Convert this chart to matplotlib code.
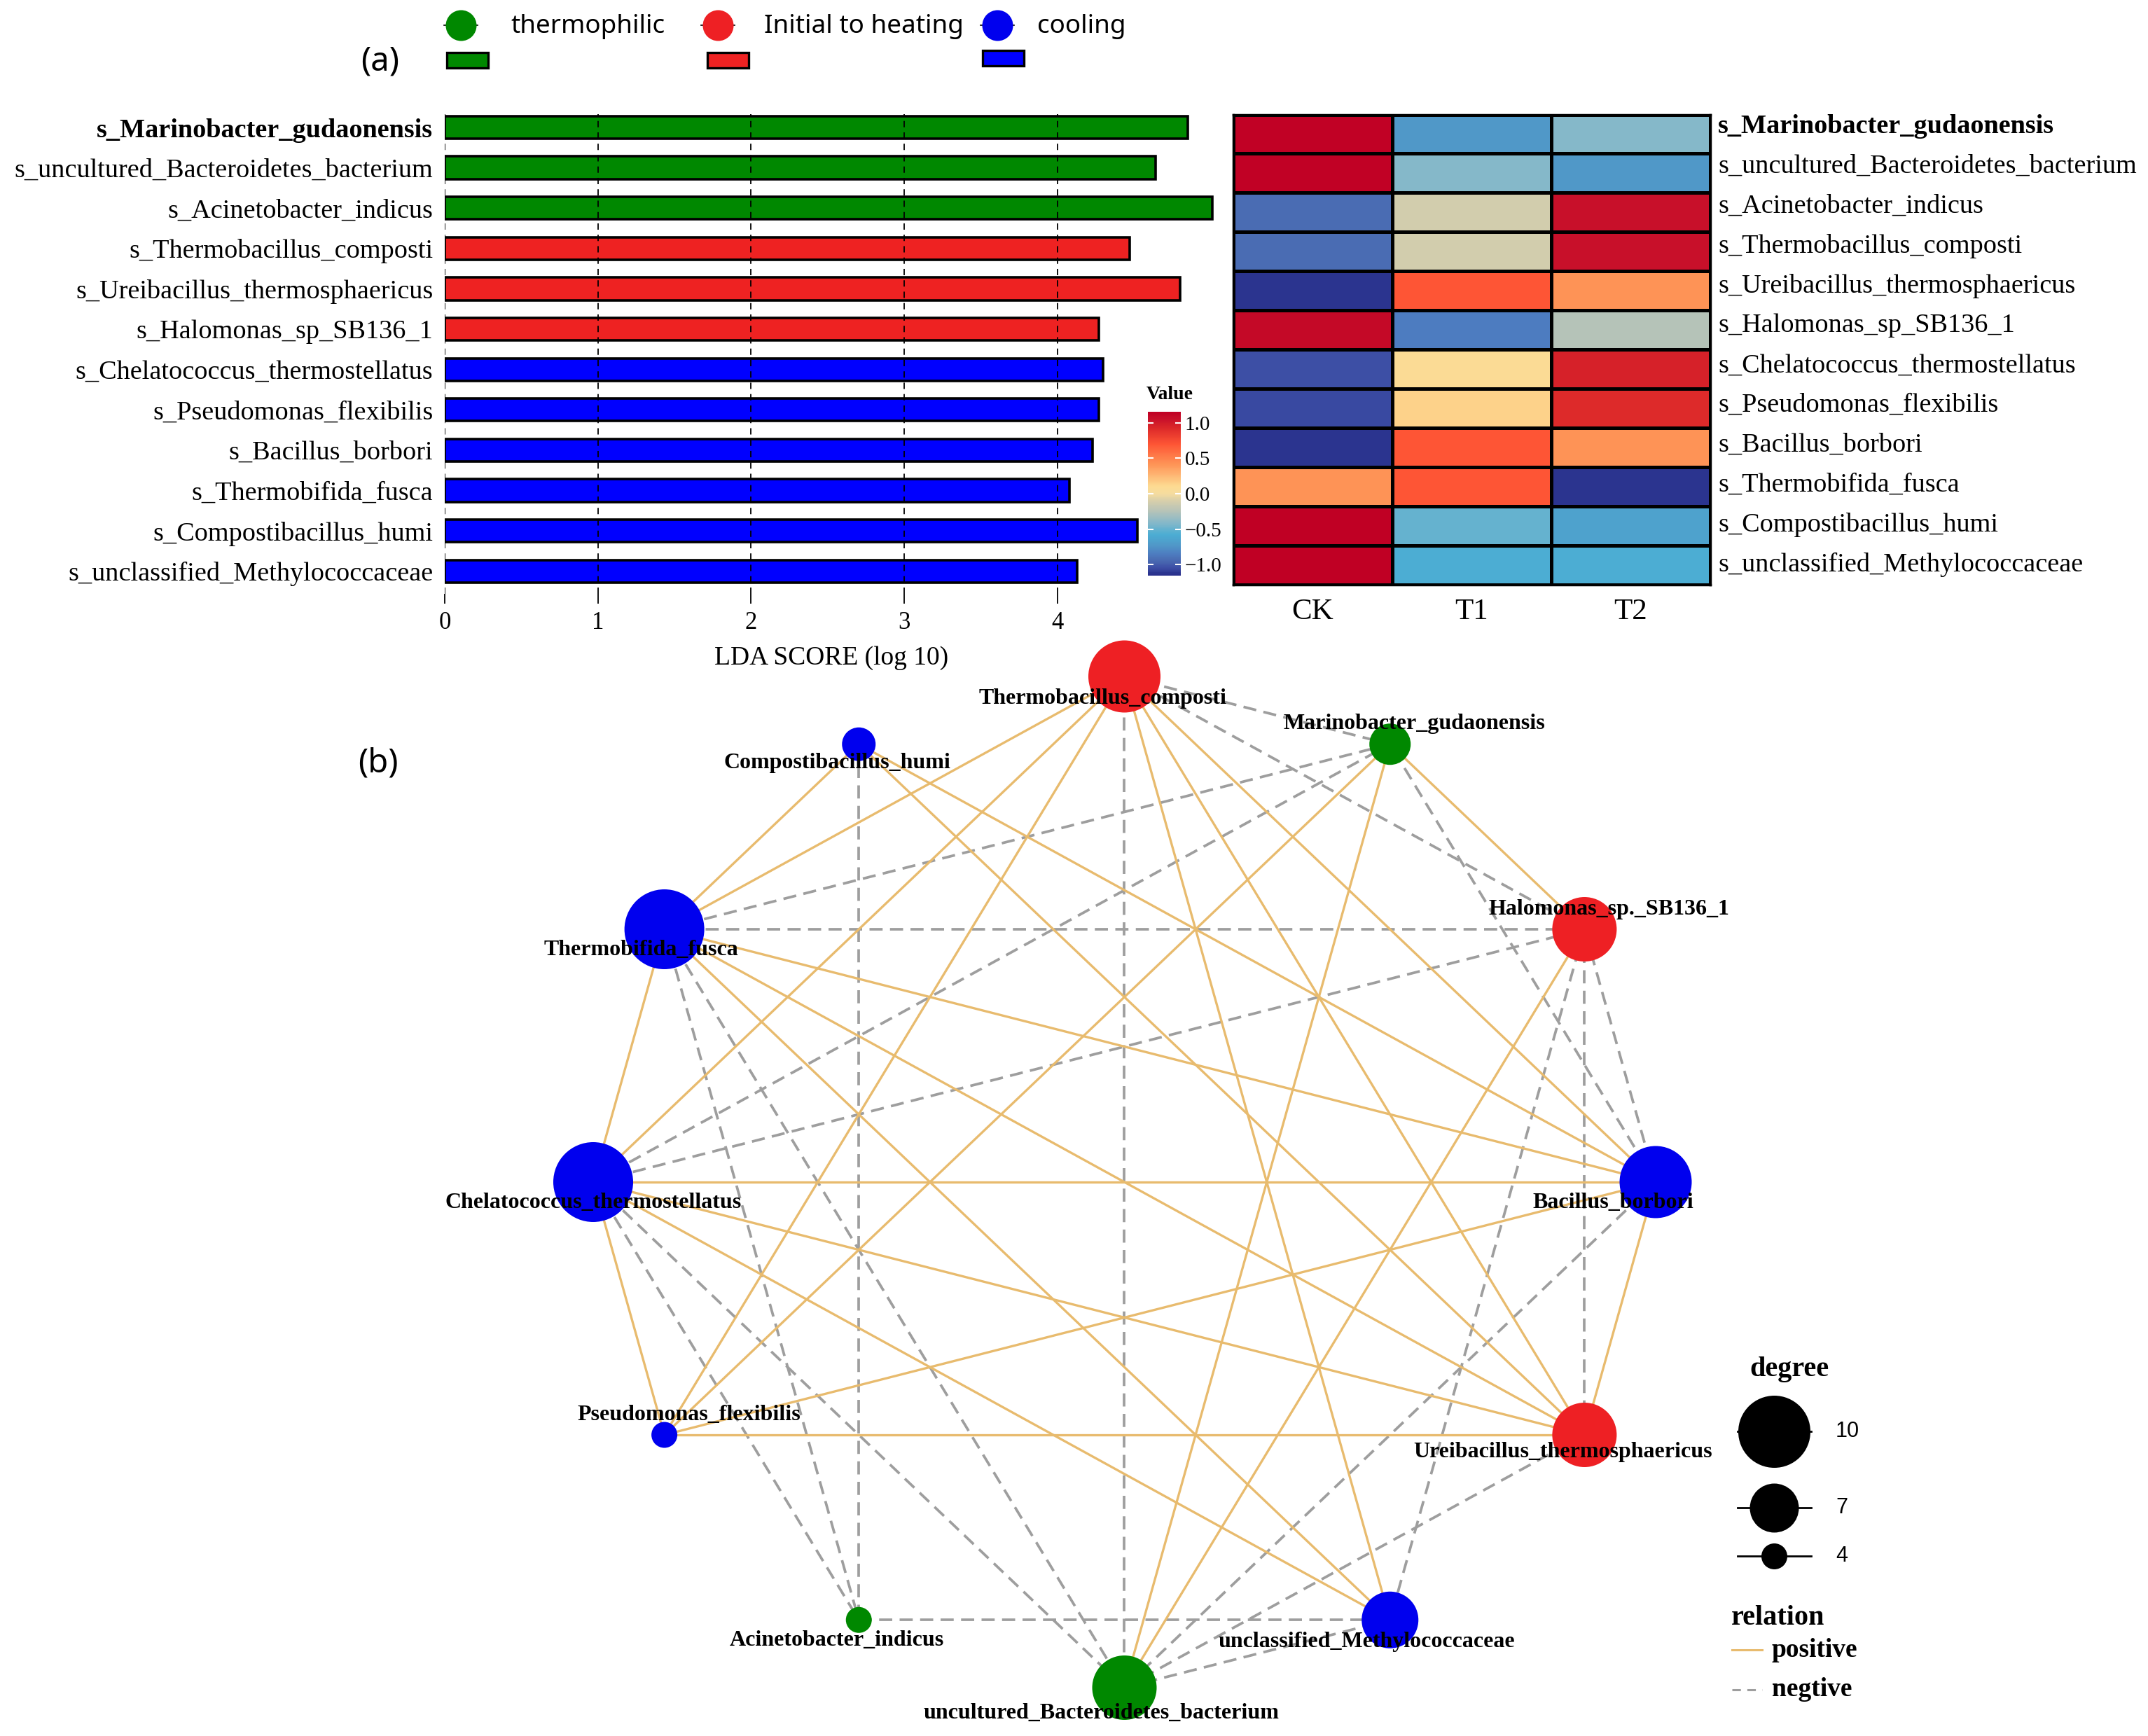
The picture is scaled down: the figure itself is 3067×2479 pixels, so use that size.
import numpy as np
import matplotlib
matplotlib.use("Agg")
import matplotlib.pyplot as plt
from matplotlib.colors import LinearSegmentedColormap
from matplotlib.patches import Rectangle

# ---------------- data ----------------
species = ["s_Marinobacter_gudaonensis", "s_uncultured_Bacteroidetes_bacterium",
           "s_Acinetobacter_indicus", "s_Thermobacillus_composti",
           "s_Ureibacillus_thermosphaericus", "s_Halomonas_sp_SB136_1",
           "s_Chelatococcus_thermostellatus", "s_Pseudomonas_flexibilis",
           "s_Bacillus_borbori", "s_Thermobifida_fusca",
           "s_Compostibacillus_humi", "s_unclassified_Methylococcaceae"]
stage = ["thermophilic"] * 3 + ["Initial to heating"] * 3 + ["cooling"] * 6
lda = [4.85, 4.64, 5.01, 4.47, 4.80, 4.27, 4.30, 4.27, 4.23, 4.08, 4.52, 4.13]

groups = ["CK", "T1", "T2"]
heat_ck = [1.14, 1.14, -0.935, -0.935, -1.12, 1.10, -1.04, -1.06, -1.12, 0.42, 1.15, 1.15]
heat_t1 = [-0.73, -0.41, -0.12, -0.12, 0.70, -0.854, 0.08, 0.14, 0.70, 0.70, -0.50, -0.577]
heat_t2 = [-0.41, -0.73, 1.055, 1.055, 0.42, -0.246, 0.96, 0.92, 0.42, -1.12, -0.65, -0.577]

nodes = ["Thermobacillus_composti", "Marinobacter_gudaonensis", "Halomonas_sp._SB136_1",
         "Bacillus_borbori", "Ureibacillus_thermosphaericus", "unclassified_Methylococcaceae",
         "uncultured_Bacteroidetes_bacterium", "Acinetobacter_indicus", "Pseudomonas_flexibilis",
         "Chelatococcus_thermostellatus", "Thermobifida_fusca", "Compostibacillus_humi"]
node_stage = ["Initial to heating", "thermophilic", "Initial to heating", "cooling",
              "Initial to heating", "cooling", "thermophilic", "thermophilic",
              "cooling", "cooling", "cooling", "cooling"]
degree = [10, 6, 9, 10, 9, 8, 9, 4, 4, 11, 11, 5]

positive = [("Thermobacillus_composti", "Thermobifida_fusca"),
            ("Thermobacillus_composti", "Chelatococcus_thermostellatus"),
            ("Thermobacillus_composti", "Pseudomonas_flexibilis"),
            ("Thermobacillus_composti", "unclassified_Methylococcaceae"),
            ("Thermobacillus_composti", "Ureibacillus_thermosphaericus"),
            ("Thermobacillus_composti", "Bacillus_borbori"),
            ("Thermobifida_fusca", "Compostibacillus_humi"),
            ("Thermobifida_fusca", "Bacillus_borbori"),
            ("Thermobifida_fusca", "Ureibacillus_thermosphaericus"),
            ("Thermobifida_fusca", "unclassified_Methylococcaceae"),
            ("Thermobifida_fusca", "Chelatococcus_thermostellatus"),
            ("Chelatococcus_thermostellatus", "Bacillus_borbori"),
            ("Chelatococcus_thermostellatus", "Ureibacillus_thermosphaericus"),
            ("Chelatococcus_thermostellatus", "unclassified_Methylococcaceae"),
            ("Chelatococcus_thermostellatus", "Pseudomonas_flexibilis"),
            ("Bacillus_borbori", "Compostibacillus_humi"),
            ("Bacillus_borbori", "Pseudomonas_flexibilis"),
            ("Bacillus_borbori", "Ureibacillus_thermosphaericus"),
            ("Halomonas_sp._SB136_1", "Marinobacter_gudaonensis"),
            ("Halomonas_sp._SB136_1", "uncultured_Bacteroidetes_bacterium"),
            ("Ureibacillus_thermosphaericus", "Compostibacillus_humi"),
            ("Ureibacillus_thermosphaericus", "Pseudomonas_flexibilis"),
            ("uncultured_Bacteroidetes_bacterium", "Marinobacter_gudaonensis"),
            ("Pseudomonas_flexibilis", "Marinobacter_gudaonensis")]
negative = [("Thermobacillus_composti", "uncultured_Bacteroidetes_bacterium"),
            ("Thermobacillus_composti", "Halomonas_sp._SB136_1"),
            ("Thermobacillus_composti", "Marinobacter_gudaonensis"),
            ("Thermobifida_fusca", "Marinobacter_gudaonensis"),
            ("Thermobifida_fusca", "Halomonas_sp._SB136_1"),
            ("Thermobifida_fusca", "uncultured_Bacteroidetes_bacterium"),
            ("Thermobifida_fusca", "Acinetobacter_indicus"),
            ("Chelatococcus_thermostellatus", "Marinobacter_gudaonensis"),
            ("Chelatococcus_thermostellatus", "Halomonas_sp._SB136_1"),
            ("Chelatococcus_thermostellatus", "uncultured_Bacteroidetes_bacterium"),
            ("Chelatococcus_thermostellatus", "Acinetobacter_indicus"),
            ("Bacillus_borbori", "Halomonas_sp._SB136_1"),
            ("Bacillus_borbori", "Marinobacter_gudaonensis"),
            ("Bacillus_borbori", "uncultured_Bacteroidetes_bacterium"),
            ("Halomonas_sp._SB136_1", "unclassified_Methylococcaceae"),
            ("Halomonas_sp._SB136_1", "Ureibacillus_thermosphaericus"),
            ("Ureibacillus_thermosphaericus", "uncultured_Bacteroidetes_bacterium"),
            ("Compostibacillus_humi", "Acinetobacter_indicus"),
            ("Acinetobacter_indicus", "unclassified_Methylococcaceae"),
            ("uncultured_Bacteroidetes_bacterium", "unclassified_Methylococcaceae")]

# ---------------- style ----------------
W, H = 3067, 2479
stage_col = {"thermophilic": "#008800", "Initial to heating": "#EE2024", "cooling": "#0000EE"}
bar_col = {"thermophilic": "#008800", "Initial to heating": "#EE2222", "cooling": "#0000FF"}
POS, NEG = "#E8BB6E", "#9E9E9E"
SERIF = "Liberation Serif"


def box(x0, y0, x1, y1):
    return [x0 / W, 1 - y1 / H, (x1 - x0) / W, (y1 - y0) / H]


def node_s(d):
    return (0.72 * (11 * d - 7)) ** 2


fig = plt.figure(figsize=(W / 100, H / 100), dpi=100)

# ---------------- (a) LDA bars ----------------
ax = fig.add_axes(box(635, 163, 635 + 5.05 * 218.7, 848))
ypos = np.arange(len(species))[::-1]
ax.barh(ypos, lda, height=0.56, color=[bar_col[s] for s in stage],
        edgecolor="black", linewidth=2.6)
ax.set_xlim(0, 5.05)
ax.set_ylim(-0.56, 11.33)
ax.set_axisbelow(False)
ax.grid(axis="x", color="black", linestyle=(0, (5, 4)), linewidth=1.3)
ax.set_xticks([0, 1, 2, 3, 4])
ax.set_xticklabels(["0", "1", "2", "3", "4"], fontsize=25, family=SERIF)
ax.set_yticks(ypos)
ax.set_yticklabels(species, fontsize=27.5, family=SERIF)
ax.get_yticklabels()[0].set_fontweight("bold")
ax.tick_params(axis="y", length=0, pad=12)
ax.tick_params(axis="x", length=10, width=1.3, pad=8)
ax.set_xlabel("LDA SCORE (log 10)", fontsize=27, family=SERIF, labelpad=12)
for sp in ax.spines.values():
    sp.set_visible(False)

# ---------------- (a) heatmap ----------------
anchors = [(-1.155, "#29308c"), (-1.12, "#2b3590"), (-1.05, "#3d4ea5"),
           (-0.935, "#4a6db3"), (-0.854, "#4d7cc0"), (-0.73, "#5098c8"),
           (-0.577, "#4badd3"), (-0.41, "#86b8c9"), (-0.246, "#b6c3b8"),
           (-0.12, "#d3cdad"), (0.0, "#f5dc9f"), (0.1, "#fddb92"),
           (0.42, "#fe9356"), (0.70, "#fe5535"), (0.94, "#da2629"),
           (1.055, "#c8102a"), (1.155, "#c00024")]
vmin, vmax = anchors[0][0], anchors[-1][0]
cmap = LinearSegmentedColormap.from_list(
    "val", [((v - vmin) / (vmax - vmin), c) for v, c in anchors])

hm = fig.add_axes(box(1761, 163.5, 2442, 834.6))
vals = np.column_stack([heat_ck, heat_t1, heat_t2])
mesh = hm.pcolormesh(vals, cmap=cmap, vmin=vmin, vmax=vmax,
                     edgecolors="black", linewidth=2.5)
hm.set_xlim(0, 3)
hm.set_ylim(len(species), 0)
hm.set_xticks(np.arange(3) + 0.5)
hm.set_xticklabels(groups, fontsize=31, family=SERIF)
hm.yaxis.tick_right()
# row labels sit on the same pitch as the bar labels
hm.set_yticks(np.linspace(0.3, 11.5, len(species)))
hm.set_yticklabels(species, fontsize=27.5, family=SERIF, va="center")
hm.get_yticklabels()[0].set_fontweight("bold")
hm.tick_params(length=0)
hm.tick_params(axis="x", pad=14)
hm.tick_params(axis="y", pad=8)
for sp in hm.spines.values():
    sp.set_linewidth(2.5)

cax = fig.add_axes(box(1639, 588, 1686, 822))
cb = fig.colorbar(mesh, cax=cax, ticks=[-1, -0.5, 0, 0.5, 1])
cb.outline.set_visible(False)
cb.set_ticklabels(["\u22121.0", "\u22120.5", "0.0", "0.5", "1.0"])
cax.tick_params(direction="in", color="white", length=6, width=1.5,
                left=True, right=True, labelsize=21, pad=4)
for t in cax.get_yticklabels():
    t.set_family(SERIF)
fig.text(1670 / W, 1 - 563 / H, "Value", ha="center", va="center",
         fontsize=20, family=SERIF, fontweight="bold")

# ---------------- (b) network ----------------
axn = fig.add_axes(box(1605.5 - 1.4 * 758.5, 1688 - 1.15 * 722,
                       1605.5 + 1.4 * 758.5, 1688 + 1.08 * 722))
axn.set_xlim(-1.4, 1.4)
axn.set_ylim(-1.08, 1.15)
axn.axis("off")
theta = np.deg2rad(90 - 30 * np.arange(len(nodes)))
pos = {n: (np.cos(t), np.sin(t)) for n, t in zip(nodes, theta)}

for a, b in negative:
    axn.plot([pos[a][0], pos[b][0]], [pos[a][1], pos[b][1]], color=NEG,
             lw=2.7, zorder=1, dashes=(5.0, 2.8))
for a, b in positive:
    axn.plot([pos[a][0], pos[b][0]], [pos[a][1], pos[b][1]], color=POS,
             lw=2.4, zorder=1.5, solid_capstyle="butt")

xy = np.array([pos[n] for n in nodes])
axn.scatter(xy[:, 0], xy[:, 1], s=[node_s(d) for d in degree],
            c=[stage_col[s] for s in node_stage], linewidths=0, zorder=3)

# label offsets (px) relative to node centre
lab_off = [(-31, 31), (35, -29), (35, -29), (-61, 29), (-31, 25), (-33, 31),
           (-33, 37), (-31, 29), (35, -29), (0, 29), (-33, 29), (-31, 27)]
for n, (dx, dy) in zip(nodes, lab_off):
    axn.annotate(n, pos[n], xytext=(dx * 0.72, -dy * 0.72), textcoords="offset points",
                 ha="center", va="center", fontsize=23, family=SERIF,
                 fontweight="bold", zorder=4)

# ---------------- legends / panel tags ----------------
ov = fig.add_axes([0, 0, 1, 1], zorder=10)
ov.set_xlim(0, W)
ov.set_ylim(H, 0)
ov.axis("off")

ov.text(543, 88, "(a)", fontsize=34, family="Noto Sans", ha="center", va="center")
ov.text(540, 1090, "(b)", fontsize=34, family="Noto Sans", ha="center", va="center")

for (cx, tx, rx, ry), name in zip([(658, 729, 638, 75), (1025, 1091, 1010, 75),
                                   (1424, 1481, 1403, 72)],
                                  ["thermophilic", "Initial to heating", "cooling"]):
    ov.plot([cx - 24, cx + 24], [36, 36], color="black", lw=1.2, zorder=1)
    ov.scatter([cx], [36], s=(0.72 * 44) ** 2, color=stage_col[name], zorder=2,
               linewidths=0)
    ov.text(tx, 38, name, fontsize=26.5, family="Noto Sans", ha="left", va="center")
    ov.add_patch(Rectangle((rx, ry), 59, 22, facecolor=bar_col[name],
                           edgecolor="black", linewidth=2.4))

ov.text(2555, 1955, "degree", fontsize=29, family=SERIF, fontweight="bold",
        ha="center", va="center")
for d, y in zip([10, 7, 4], [2044, 2153, 2222]):
    ov.plot([2481, 2586], [y, y], color="black", lw=2, zorder=1)
    ov.scatter([2533], [y], s=node_s(d), color="black", zorder=2, linewidths=0)
    ov.text(2621, y, str(d), fontsize=22, family="Liberation Sans",
            ha="left", va="center")

ov.text(2539, 2311, "relation", fontsize=29, family=SERIF, fontweight="bold",
        ha="center", va="center")
ov.plot([2473, 2516], [2356, 2356], color=POS, lw=2.2)
ov.text(2530, 2356, "positive", fontsize=27, family=SERIF, fontweight="bold",
        ha="left", va="center")
ov.plot([2473, 2516], [2413, 2413], color=NEG, lw=2.2, dashes=(4, 3))
ov.text(2530, 2413, "negtive", fontsize=27, family=SERIF, fontweight="bold",
        ha="left", va="center")

fig.savefig("out.png", dpi=100)
